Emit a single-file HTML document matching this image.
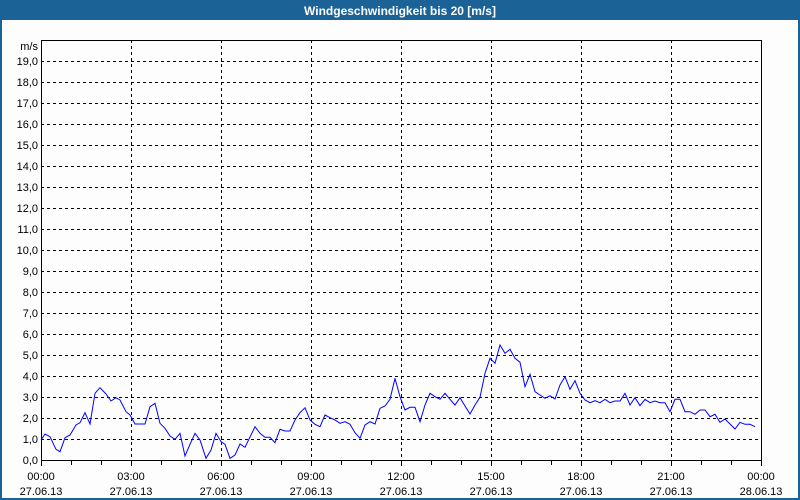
<!DOCTYPE html>
<html><head><meta charset="utf-8"><style>
html,body{margin:0;padding:0;background:#fff;}
svg{display:block;font-family:"Liberation Sans",sans-serif;}
</style></head><body>
<svg width="800" height="500" viewBox="0 0 800 500" xmlns="http://www.w3.org/2000/svg">
<rect x="0" y="0" width="800" height="500" fill="#1b6396"/>
<rect x="2" y="20" width="796" height="478" fill="#fdfdfd"/>
<text x="400" y="15" fill="#fff" font-size="12" font-weight="bold" text-anchor="middle">Windgeschwindigkeit bis 20 [m/s]</text>
<g stroke="#000" stroke-width="1" stroke-dasharray="3,3" fill="none">
<path d="M41 439.5H761M41 418.5H761M41 397.5H761M41 376.5H761M41 355.5H761M41 334.5H761M41 313.5H761M41 292.5H761M41 271.5H761M41 250.5H761M41 229.5H761M41 208.5H761M41 187.5H761M41 166.5H761M41 145.5H761M41 124.5H761M41 103.5H761M41 82.5H761M41 61.5H761"/>
<path d="M131.5 40V460M221.5 40V460M311.5 40V460M401.5 40V460M491.5 40V460M581.5 40V460M671.5 40V460"/>
</g>
<rect x="41.5" y="40.5" width="720" height="420" fill="none" stroke="#000"/>
<g stroke="#000"><path d="M71.5 461v4M101.5 461v4M131.5 461v5M161.5 461v4M191.5 461v4M221.5 461v5M251.5 461v4M281.5 461v4M311.5 461v5M341.5 461v4M371.5 461v4M401.5 461v5M431.5 461v4M461.5 461v4M491.5 461v5M521.5 461v4M551.5 461v4M581.5 461v5M611.5 461v4M641.5 461v4M671.5 461v5M701.5 461v4M731.5 461v4M41.5 461v5M761.5 461v5"/></g>
<g font-size="11" fill="#000" text-anchor="end">
<text x="38" y="50">m/s</text>
<text x="38" y="464">0,0</text><text x="38" y="443">1,0</text><text x="38" y="422">2,0</text><text x="38" y="401">3,0</text><text x="38" y="380">4,0</text><text x="38" y="359">5,0</text><text x="38" y="338">6,0</text><text x="38" y="317">7,0</text><text x="38" y="296">8,0</text><text x="38" y="275">9,0</text><text x="38" y="254">10,0</text><text x="38" y="233">11,0</text><text x="38" y="212">12,0</text><text x="38" y="191">13,0</text><text x="38" y="170">14,0</text><text x="38" y="149">15,0</text><text x="38" y="128">16,0</text><text x="38" y="107">17,0</text><text x="38" y="86">18,0</text><text x="38" y="65">19,0</text>
</g>
<g font-size="11" fill="#000" text-anchor="middle">
<text x="41" y="480">00:00</text><text x="41" y="495">27.06.13</text>
<text x="131" y="480">03:00</text><text x="131" y="495">27.06.13</text>
<text x="221" y="480">06:00</text><text x="221" y="495">27.06.13</text>
<text x="311" y="480">09:00</text><text x="311" y="495">27.06.13</text>
<text x="401" y="480">12:00</text><text x="401" y="495">27.06.13</text>
<text x="491" y="480">15:00</text><text x="491" y="495">27.06.13</text>
<text x="581" y="480">18:00</text><text x="581" y="495">27.06.13</text>
<text x="671" y="480">21:00</text><text x="671" y="495">27.06.13</text>
<text x="761" y="480">00:00</text><text x="761" y="495">28.06.13</text>
</g>
<polyline fill="none" stroke="#0000ff" stroke-width="1" points="41,440 45,434 50,436.7 56,449.3 60,451.7 65,437.7 70,435 76,425 80,422.7 85,412.7 90,424 95,393.3 100,387.7 106,394 111,401 116,397.7 120,400 126,411.7 130,415 135,424 145,424 150,406.7 155,403.3 160,423.3 165,428.3 170,436 175,439.3 180,433.3 185,456 190,444.3 195,433.3 200,440 206,458.3 211,450 216,433.3 221,441.7 225,444.3 230,458.3 235,455 240,444 245,447.3 255,426.7 260,433.3 265,437.3 270,437.3 275,442.7 280,429.3 285,431 290,431 295,420 300,412.7 305,407.7 310,420 315,424.3 320,426.7 325,415 330,417.7 335,420 340,423.3 345,421.7 350,424.3 355,432.7 360,438.3 365,425 370,421.7 375,424 380,408.3 385,406 390,399.3 395,378.3 400,396.7 405,410 410,407.3 415,407.3 420,421.7 425,405 430,393.3 435,396.7 440,399.3 445,393.3 450,399.3 455,405 460,397.7 465,406 470,414 475,405 480,397.3 485,373.3 490,358.3 495,363.3 500,345 505,353.3 510,349.3 515,358.3 520,362.3 525,386.7 530,374.3 535,391.7 540,395 545,398.3 550,395.7 555,399 560,385 565,376.7 570,389.3 575,380.7 580,393.3 585,400 590,402.7 595,400.7 600,402.7 605,399.3 610,402.7 615,401 620,401 625,393.3 630,405 635,397.7 640,405.7 645,399.3 650,402.7 655,401 660,402.7 665,402.7 670,411.7 675,399.3 680,399.3 685,411.7 690,411.7 695,414.3 700,410 705,410 710,416.7 715,414.3 720,422.3 725,419 730,424 735,429 740,422.3 745,424.3 750,424.3 755,426.7"/>
</svg>
</body></html>
